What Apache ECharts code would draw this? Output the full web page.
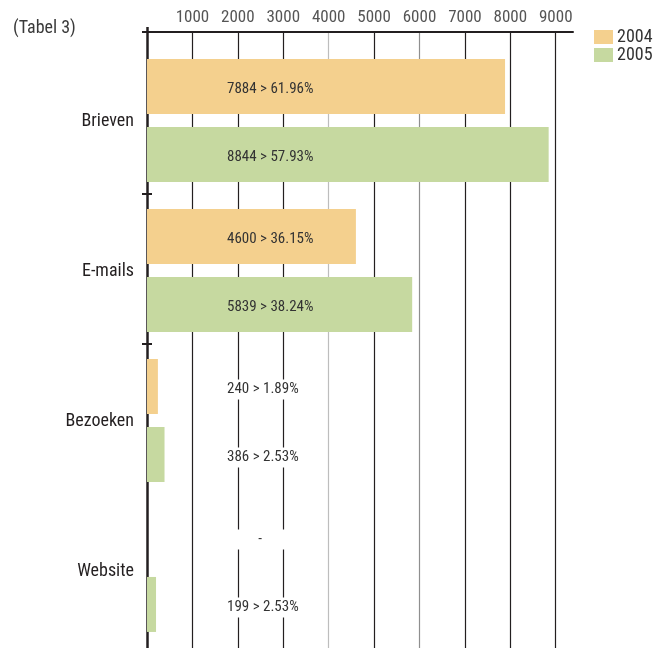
<!DOCTYPE html>
<html>
<head>
<meta charset="utf-8">
<script src="https://cdn.jsdelivr.net/npm/echarts@6/dist/echarts.min.js"></script>
<style>
  html, body { margin: 0; padding: 0; background: #fff; }
  #chart { width: 658px; height: 648px; }
</style>
</head>
<body>
<div id="chart"></div>
<script>
// Contacts per channel, 2004 vs 2005
const categories = ['Brieven', 'E-mails', 'Bezoeken', 'Website'];
const years = ['2004', '2005'];
const counts2004 = [7884, 4600, 240, 0];
const counts2005 = [8844, 5839, 386, 199];
const shares2004 = ['61.96%', '36.15%', '1.89%', null];
const shares2005 = ['57.93%', '38.24%', '2.53%', '2.53%'];
const xTickValues = [1000, 2000, 3000, 4000, 5000, 6000, 7000, 8000, 9000];

const FONT = '"Roboto Condensed", "Liberation Sans Narrow", sans-serif';
const BAR_COLORS = ['#f4d08e', '#c6d9a0'];
const INK = '#231f20';

// Row geometry in category units (one row = one category)
const BAR_THICK = 0.3667;
const SLOT_START = [0.1, 0.5533];
const LABEL_DX = 80;   // label start, px right of the zero line
const ROW_LABEL_POS = 0.515;

function barRenderer(slot, shares) {
  return function (params, api) {
    const v = api.value(0);
    const row = api.value(1);
    const top = row + SLOT_START[slot];
    const p0 = api.coord([0, top]);
    const p1 = api.coord([v, top + BAR_THICK]);
    const midY = (p0[1] + p1[1]) / 2 + 3;
    const share = shares[params.dataIndex];
    const children = [{
      type: 'rect',
      shape: { x: p0[0], y: p0[1], width: p1[0] - p0[0], height: p1[1] - p0[1] },
      style: { fill: BAR_COLORS[slot] }
    }];
    if (p1[0] < p0[0] + LABEL_DX) {
      // white plate keeps the grid lines from running through the label
      children.push({
        type: 'rect',
        shape: { x: p0[0] + LABEL_DX - 2, y: midY - 10, width: 76, height: 20 },
        style: { fill: '#ffffff' }
      });
    }
    children.push({
      type: 'text',
      x: share ? p0[0] + LABEL_DX : p0[0] + LABEL_DX + 33,
      y: midY,
      style: {
        text: share ? v + ' > ' + share : '-',
        fill: '#333333',
        fontSize: 15,
        fontFamily: FONT,
        align: share ? 'left' : 'center',
        verticalAlign: 'middle'
      }
    });
    return { type: 'group', children: children };
  };
}

const xRange = { type: 'value', min: 0, max: 9380, interval: 1000 };
const yRange = { type: 'value', inverse: true, min: -0.08, max: 4.027 };

const chart = echarts.init(document.getElementById('chart'));
chart.setOption({
  animation: false,
  backgroundColor: '#ffffff',
  grid: { left: 147, top: 32, right: 85, bottom: 0, containLabel: false },
  title: {
    text: '(Tabel 3)', left: 13, top: 19, padding: 0,
    textStyle: { fontFamily: FONT, fontSize: 18, fontWeight: 'normal', color: '#3a3a3a' }
  },
  legend: {
    data: years, orient: 'vertical', left: 594, top: 28, padding: 0,
    icon: 'rect', itemWidth: 19, itemHeight: 14, itemGap: 0,
    textStyle: { fontFamily: FONT, fontSize: 18, color: '#333333', padding: [0, 0, 0, -1] }
  },
  xAxis: [Object.assign({}, xRange, {
    position: 'top',
    axisLine: { show: true, onZero: false, lineStyle: { color: INK, width: 2 } },
    axisTick: { show: false },
    axisLabel: {
      customValues: xTickValues,
      formatter: function (v) { return String(v); },
      fontFamily: FONT, fontSize: 17, color: '#555555', margin: 6
    },
    splitLine: {
      show: true, showMinLine: false, showMaxLine: false,
      lineStyle: { width: 1.2, color: [INK, INK, INK, '#bdbdbd', INK, '#8f8f8f', INK, INK, INK] }
    }
  }), Object.assign({}, xRange, {
    // short stub of the value axis poking above the top rule at zero
    position: 'bottom', offset: -616,
    axisLine: { show: false, onZero: false },
    axisTick: { show: true, inside: true, customValues: [0], length: 5, lineStyle: { color: INK, width: 2.5 } },
    axisLabel: { show: false },
    splitLine: { show: false }
  })],
  yAxis: [Object.assign({}, yRange, {
    position: 'left',
    axisLine: { show: true, onZero: false, lineStyle: { color: INK, width: 2.5 } },
    axisTick: { show: true, customValues: [-0.08, 1, 2], length: 5, lineStyle: { color: INK, width: 2 } },
    axisLabel: {
      customValues: categories.map(function (c, i) { return i + ROW_LABEL_POS; }),
      formatter: function (v) { return categories[Math.floor(v)]; },
      fontFamily: FONT, fontSize: 18, color: INK, margin: 13
    },
    splitLine: { show: false }
  }), Object.assign({}, yRange, {
    // right half of the crossing row ticks
    position: 'left',
    axisLine: { show: false, onZero: false },
    axisTick: { show: true, inside: true, customValues: [1, 2], length: 5, lineStyle: { color: INK, width: 2 } },
    axisLabel: { show: false },
    splitLine: { show: false }
  })],
  series: [{
    name: years[0], type: 'custom',
    itemStyle: { color: BAR_COLORS[0] },
    encode: { x: 0, y: 1 },
    data: counts2004.map(function (v, i) { return [v, i]; }),
    renderItem: barRenderer(0, shares2004)
  }, {
    name: years[1], type: 'custom',
    itemStyle: { color: BAR_COLORS[1] },
    encode: { x: 0, y: 1 },
    data: counts2005.map(function (v, i) { return [v, i]; }),
    renderItem: barRenderer(1, shares2005)
  }]
});
</script>
</body>
</html>
